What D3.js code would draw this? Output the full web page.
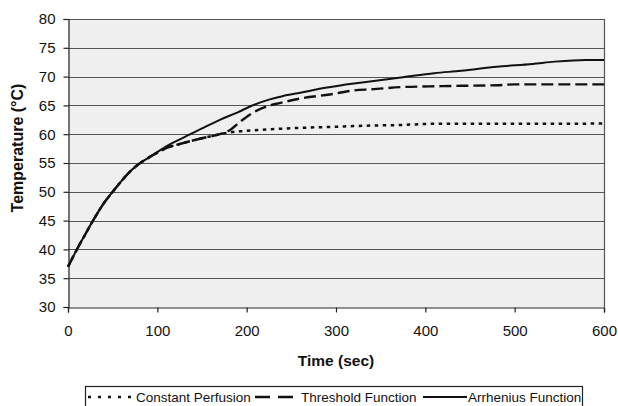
<!DOCTYPE html>
<html><head><meta charset="utf-8">
<script src="https://cdn.jsdelivr.net/npm/d3@7"></script>
<style>body{margin:0;background:#fff}svg{display:block}text{font-family:"Liberation Sans",Arial,sans-serif}</style>
</head><body>
<script>
const timeArrhenius = [0,10,20,28,40,50,60,70,80,90,100,115,137,150,170,190,205,225,240,260,290,320,340,375,410,440,480,520,545,580,600];
const tempArrhenius = [37.0,40.0,42.8,45.0,48.0,50.0,51.9,53.6,54.9,55.9,56.9,58.3,60.0,61.0,62.5,63.8,64.9,66.0,66.6,67.2,68.1,68.8,69.2,69.9,70.6,71.0,71.7,72.2,72.6,72.9,72.9];
const timeThreshold = [0,10,20,28,40,50,60,70,80,90,100,110,125,137,150,170,180,193,209,226,237,260,293,320,340,375,405,440,480,500,600];
const tempThreshold = [37.0,40.0,42.8,45.0,48.0,50.0,51.9,53.6,54.9,55.9,56.8,57.6,58.3,58.8,59.3,60.0,60.6,62.2,63.9,65.0,65.4,66.2,66.9,67.6,67.8,68.2,68.3,68.4,68.5,68.65,68.65];
const timeConstant = [0,10,20,28,40,50,60,70,80,90,100,110,125,137,150,170,180,193,226,260,300,340,372,410,500,600];
const tempConstant = [37.0,40.0,42.8,45.0,48.0,50.0,51.9,53.6,54.9,55.9,56.8,57.6,58.3,58.8,59.3,60.0,60.3,60.5,60.85,61.1,61.3,61.5,61.6,61.8,61.8,61.85];
const xTicks = [0,100,200,300,400,500,600];
const yTicks = [30,35,40,45,50,55,60,65,70,75,80];
const seriesNames = ["Constant Perfusion","Threshold Function","Arrhenius Function"];

const W = 618, H = 406;
const m = {left:68, right:604, top:19, bottom:307};
const svg = d3.select("body").append("svg").attr("width",W).attr("height",H);
const x = d3.scaleLinear().domain([0,600]).range([m.left,m.right]);
const y = d3.scaleLinear().domain([30,80]).range([m.bottom,m.top]);

svg.append("rect").attr("x",m.left).attr("y",m.top).attr("width",m.right-m.left).attr("height",m.bottom-m.top).attr("fill","#efefef");

// gridlines
svg.append("g").selectAll("line").data(yTicks.filter(v=>v>30)).join("line")
  .attr("x1",m.left).attr("x2",m.right).attr("y1",d=>Math.round(y(d))+0.5).attr("y2",d=>Math.round(y(d))+0.5)
  .attr("stroke","#555").attr("stroke-width",1.2);
// right border
svg.append("line").attr("x1",m.right+0.5).attr("x2",m.right+0.5).attr("y1",m.top).attr("y2",m.bottom).attr("stroke","#555").attr("stroke-width",1.2);

// axes
const yAxis = d3.axisLeft(y).tickValues(yTicks).tickSize(5).tickPadding(8);
const gy = svg.append("g").attr("transform",`translate(${m.left+0.5},0)`).call(yAxis);
const xAxis = d3.axisBottom(x).tickValues(xTicks).tickSize(5).tickPadding(13);
const gx = svg.append("g").attr("transform",`translate(0,${m.bottom+0.5})`).call(xAxis);
[gx,gy].forEach(g=>{
  g.select(".domain").attr("stroke","#222").attr("stroke-width",1.2);
  g.selectAll(".tick line").attr("stroke","#222").attr("stroke-width",1.2);
  g.selectAll(".tick text").attr("font-size","15px").attr("fill","#111").attr("font-family","'Liberation Sans',Arial,sans-serif");
});

// lines
const mk = (ts,vs)=>ts.map((t,i)=>[t,vs[i]]);
const line = d3.line().x(d=>x(d[0])).y(d=>y(d[1])).curve(d3.curveMonotoneX);
const styles = [
  {data:mk(timeConstant,tempConstant), dash:"3.5,4.5", w:2.5},
  {data:mk(timeThreshold,tempThreshold), dash:"12,5", w:2.4},
  {data:mk(timeArrhenius,tempArrhenius), dash:null, w:2}
];
styles.forEach(s=>{
  svg.append("path").datum(s.data).attr("d",line).attr("fill","none").attr("stroke","#111")
    .attr("stroke-width",s.w).attr("stroke-dasharray",s.dash);
});

// titles
svg.append("text").attr("x",(m.left+m.right)/2).attr("y",366).attr("text-anchor","middle")
  .attr("font-size","15.5px").attr("font-weight","bold").attr("fill","#111").text("Time (sec)");
svg.append("text").attr("transform",`translate(23,148) rotate(-90)`).attr("text-anchor","middle")
  .attr("font-size","16px").attr("font-weight","bold").attr("fill","#111").text("Temperature (°C)");

// legend
svg.append("rect").attr("x",85.5).attr("y",386.5).attr("width",497).attr("height",30).attr("fill","#fff").attr("stroke","#222").attr("stroke-width",1.2);
const legX = [{x1:88,x2:133,tx:136},{x1:255,x2:296,tx:301},{x1:423,x2:467,tx:468}];
legX.forEach((l,i)=>{
  svg.append("line").attr("x1",l.x1).attr("x2",l.x2).attr("y1",397).attr("y2",397).attr("stroke","#111")
    .attr("stroke-width",styles[i].w).attr("stroke-dasharray",i===0?"3,7":(i===1?"15,8":null));
  svg.append("text").attr("x",l.tx).attr("y",402).attr("font-size","13.5px").attr("fill","#111").text(seriesNames[i]);
});
</script>
</body></html>
